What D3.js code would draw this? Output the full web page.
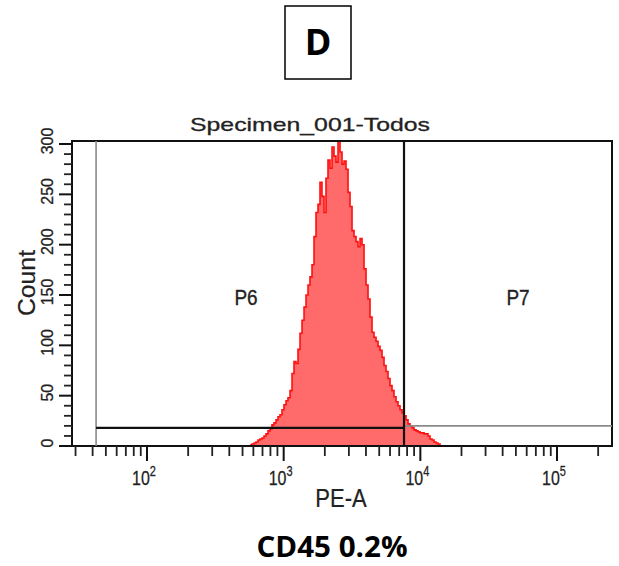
<!DOCTYPE html>
<html>
<head>
<meta charset="utf-8">
<script src="https://cdn.jsdelivr.net/npm/d3@7"></script>
<style>
  html, body { margin: 0; padding: 0; background: #fff; }
  svg { display: block; }
</style>
</head>
<body>
<div id="chart"></div>
<script>
// ---------- DATA ----------
const panelLabel = "D";
const plotTitle = "Specimen_001-Todos";
const xAxisLabel = "PE-A";
const yAxisLabel = "Count";
const footerText = "CD45 0.2%";

// PE-A bin edges (log scale) and counts per bin
const peEdges = [567, 586, 607, 627, 649, 671, 694, 718, 742, 768,
  794, 821, 849, 879, 909, 940, 972, 1005, 1040, 1075,
  1113, 1151, 1190, 1231, 1273, 1317, 1362, 1409, 1457, 1507,
  1558, 1612, 1667, 1724, 1783, 1844, 1907, 1973, 2040, 2110,
  2183, 2258, 2335, 2415, 2498, 2584, 2672, 2764, 2859, 2957,
  3058, 3163, 3271, 3383, 3499, 3619, 3743, 3871, 4004, 4141,
  4283, 4430, 4582, 4739, 4901, 5069, 5243, 5423, 5609, 5801,
  5998, 6204, 6417, 6637, 6864, 7100, 7343, 7595, 7855, 8125,
  8403, 8691, 8989, 9297, 9616, 9943, 10284, 10637, 11001, 11378,
  11770, 12173, 12590, 13022, 13468, 13930];
const counts = [1, 2, 3, 4, 6, 7, 8, 10, 12, 15,
  17, 21, 23, 26, 29, 31, 36, 41, 45, 48,
  55, 72, 84, 82, 96, 112, 125, 138, 150, 160,
  168, 180, 208, 232, 240, 262, 248, 232, 266, 284,
  276, 297, 288, 282, 303, 292, 280, 283, 275, 252,
  238, 214, 208, 203, 198, 206, 200, 176, 160, 146,
  128, 113, 108, 104, 99, 95, 88, 80, 74, 67,
  60, 55, 49, 44, 40, 36, 33, 30, 26, 22,
  20, 18, 16, 15, 14, 13, 13, 12, 12, 10,
  7, 6, 4, 3, 2];

// axis domains and ticks
const xDomain = [28.26, 252500];
const yDomain = [0, 303];
const xMajorTicks = [100, 1000, 10000, 100000];
const xMajorExp = ["2", "3", "4", "5"];
const xMinorTicks = [30, 40, 50, 60, 70, 80, 90,
  200, 300, 400, 500, 600, 700, 800, 900,
  2000, 3000, 4000, 5000, 6000, 7000, 8000, 9000,
  20000, 30000, 40000, 50000, 60000, 70000, 80000, 90000, 200000];
const yLabelTicks = [0, 50, 100, 150, 200, 250, 300];
const yMinorTicks = [10, 20, 30, 40, 60, 70, 80, 90, 110, 120, 130, 140,
  160, 170, 180, 190, 210, 220, 230, 240, 260, 270, 280, 290];

// gates
const gateP6 = { label: "P6", x0: 42.4, x1: 7594, level: 18 };
const gateP7 = { label: "P7", x0: 7594, x1: 252500, level: 20 };

// ---------- DRAW ----------
const W = 619, H = 566;
const svg = d3.select("#chart").append("svg").attr("width", W).attr("height", H);

const x = d3.scaleLog().domain(xDomain).range([72, 612]);
const y = d3.scaleLinear().domain(yDomain).range([446, 141]);

function txt(str, tx, ty, o) {
  const t = svg.append("text")
    .attr("transform", `translate(${tx},${ty}) rotate(${o.rotate || 0}) scale(${o.sx || 1},${o.sy || 1})`)
    .attr("font-family", o.family || "'Liberation Sans', Arial, sans-serif")
    .attr("font-size", o.size)
    .attr("font-weight", o.weight || "normal")
    .attr("text-anchor", o.anchor || "middle")
    .attr("fill", o.fill || "#1a1a1a")
    .text(str);
  if (o.len) t.attr("textLength", o.len).attr("lengthAdjust", "spacingAndGlyphs");
  if (o.stroke) t.attr("stroke", o.fill || "#1a1a1a").attr("stroke-width", o.stroke);
  return t;
}

// Panel label box
svg.append("rect").attr("x", 285).attr("y", 6).attr("width", 66).attr("height", 73)
  .attr("fill", "none").attr("stroke", "#000").attr("stroke-width", 1.5);
txt(panelLabel, 318, 55, { size: 36, weight: "bold", family: "'Open Sans', Arial, sans-serif", fill: "#000" });

// Title
txt(plotTitle, 190, 131, { size: 19, anchor: "start", len: 240, fill: "#222", stroke: 0.3 });

// histogram
const histData = peEdges.map((e, i) => ({ v: e, c: i < counts.length ? counts[i] : 0 }));
const area = d3.area().x(d => x(d.v)).y0(y(0)).y1(d => y(d.c)).curve(d3.curveStepAfter);
const line = d3.line().x(d => x(d.v)).y(d => y(d.c)).curve(d3.curveStepAfter);
svg.append("path").datum(histData).attr("d", area).attr("fill", "#ff6b6b");
svg.append("path").datum(histData).attr("d", line).attr("fill", "none")
  .attr("stroke", "#ff1010").attr("stroke-width", 1.6);

// frame
svg.append("rect").attr("x", x.range()[0]).attr("y", y.range()[1])
  .attr("width", x.range()[1] - x.range()[0]).attr("height", y.range()[0] - y.range()[1])
  .attr("fill", "none").attr("stroke", "#111").attr("stroke-width", 2);

// gates
svg.append("line").attr("x1", x(gateP6.x0)).attr("x2", x(gateP6.x0))
  .attr("y1", y.range()[1]).attr("y2", y(0)).attr("stroke", "#8a8a8a").attr("stroke-width", 1.6);
svg.append("line").attr("x1", x(gateP7.x0)).attr("x2", x(gateP7.x1))
  .attr("y1", y(gateP7.level)).attr("y2", y(gateP7.level)).attr("stroke", "#8a8a8a").attr("stroke-width", 1.6);
svg.append("line").attr("x1", x(gateP6.x0)).attr("x2", x(gateP6.x1))
  .attr("y1", y(gateP6.level)).attr("y2", y(gateP6.level)).attr("stroke", "#111").attr("stroke-width", 2.2);
svg.append("line").attr("x1", x(gateP6.x1)).attr("x2", x(gateP6.x1))
  .attr("y1", y.range()[1]).attr("y2", y(0)).attr("stroke", "#111").attr("stroke-width", 2.2);
txt(gateP6.label, 246, 305, { size: 19, sy: 1.2, fill: "#222", stroke: 0.3 });
txt(gateP7.label, 518, 305, { size: 19, sy: 1.2, fill: "#222", stroke: 0.3 });

// x axis ticks
const bottom = y(0);
xMinorTicks.forEach(v => {
  svg.append("line").attr("x1", x(v)).attr("x2", x(v)).attr("y1", bottom).attr("y2", bottom + 10)
    .attr("stroke", "#222").attr("stroke-width", 1.8);
});
xMajorTicks.forEach((v, i) => {
  svg.append("line").attr("x1", x(v)).attr("x2", x(v)).attr("y1", bottom).attr("y2", bottom + 15)
    .attr("stroke", "#111").attr("stroke-width", 2);
  const t = txt("10", x(v) - 3, 485, { size: 16, sy: 1.3, anchor: "middle", fill: "#222", stroke: 0.2 });
  t.append("tspan").attr("font-size", 11).attr("dy", -7).text(xMajorExp[i]);
});

// y axis ticks
const left = x.range()[0];
yMinorTicks.forEach(v => {
  svg.append("line").attr("x1", left - 8).attr("x2", left).attr("y1", y(v)).attr("y2", y(v))
    .attr("stroke", "#222").attr("stroke-width", 1.8);
});
yLabelTicks.forEach(v => {
  svg.append("line").attr("x1", left - 13).attr("x2", left).attr("y1", y(v)).attr("y2", y(v))
    .attr("stroke", "#111").attr("stroke-width", 2);
  txt(String(v), 53, y(v) - 3, { size: 16, rotate: -90, fill: "#222", stroke: 0.3 });
});

// axis titles
txt(xAxisLabel, 341, 507, { size: 22, sy: 1.15, fill: "#222", stroke: 0.2 });
txt(yAxisLabel, 35, 283, { size: 23, rotate: -90, len: 66, fill: "#222", stroke: 0.2 });

// footer
txt(footerText, 332, 557, { size: 28, weight: "bold", family: "'Open Sans', Arial, sans-serif", len: 151, fill: "#000" });
</script>
</body>
</html>
